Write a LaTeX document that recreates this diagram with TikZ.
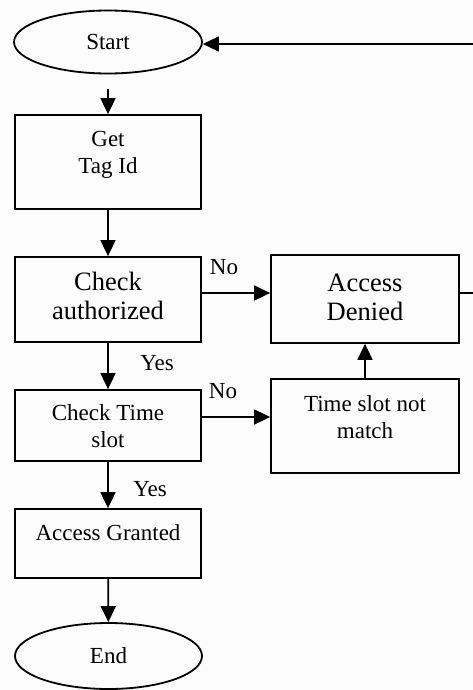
\documentclass[tikz,border=0pt]{standalone}
\usepackage{fontspec}
\setmainfont{Liberation Serif}
\usetikzlibrary{shapes.geometric,arrows.meta}
\begin{document}
\begin{tikzpicture}[x=1pt,y=-1pt,
 box/.style={draw,line width=1.8pt,inner sep=0pt},
 term/.style={draw,ellipse,line width=1.8pt,inner sep=0pt,font=\fontsize{23}{27}\selectfont},
 txt/.style={align=center,font=\fontsize{23}{27}\selectfont,inner sep=0pt},
 bigtxt/.style={align=center,font=\fontsize{26.5}{29}\selectfont,inner sep=0pt},
 lbl/.style={font=\fontsize{23}{27}\selectfont,inner sep=0pt},
 arr/.style={line width=1.8pt,-{Triangle[length=16pt,width=15pt]}}]
\fill[white!99!black] (0,0) rectangle (473,690);
\useasboundingbox (0,0) rectangle (473,690);
% nodes
\node[term,minimum width=188pt,minimum height=63pt] (start) at (108,42) {Start};
\node[box,minimum width=186pt,minimum height=94pt] (get) at (108,162) {};
\node[txt] (gett) at (108,154.5) {Get\\Tag Id};
\node[box,minimum width=186pt,minimum height=85pt] (ca) at (108,299.5) {};
\node[bigtxt] (cat) at (108,295.5) {Check\\authorized};
\node[box,minimum width=188pt,minimum height=88pt] (ad) at (365,299) {};
\node[bigtxt] (adt) at (365,297) {Access\\Denied};
\node[box,minimum width=186pt,minimum height=71pt] (ct) at (108,425.5) {};
\node[txt] (ctt) at (108,426.5) {Check Time\\slot};
\node[box,minimum width=188pt,minimum height=94pt] (ts) at (365,426) {};
\node[txt] (tst) at (365,417) {Time slot not\\match};
\node[box,minimum width=186pt,minimum height=69pt] (ag) at (108,543.5) {};
\node[txt] (agt) at (108,533) {Access Granted};
\node[term,minimum width=187pt,minimum height=66pt] (end) at (108.5,656) {End};
% labels
\node[lbl] (no1) at (224,267) {No};
\node[lbl] (yes1) at (157,363) {Yes};
\node[lbl] (no2) at (223,391) {No};
\node[lbl] (yes2) at (150,489) {Yes};
% connectors
\draw[arr,shorten <=14.5pt] (start.south) -- (get.north);
\draw[arr] (get) -- (ca);
\draw[arr] ([yshift=6.5pt]ca.east) -- ([yshift=6.5pt]ca.east -| ad.west);
\draw[arr] (ca) -- (ct);
\draw[arr] ([yshift=8.5pt]ct.east) -- ([yshift=8.5pt]ct.east -| ts.west);
\draw[arr] (ts) -- (ad);
\draw[arr] (ct) -- (ag);
\draw[arr] (ag) -- (end);
\draw[arr] ([yshift=6pt]ad.east) -- ++(40,0) |- ([yshift=-2pt]start.east);
\end{tikzpicture}
\end{document}
